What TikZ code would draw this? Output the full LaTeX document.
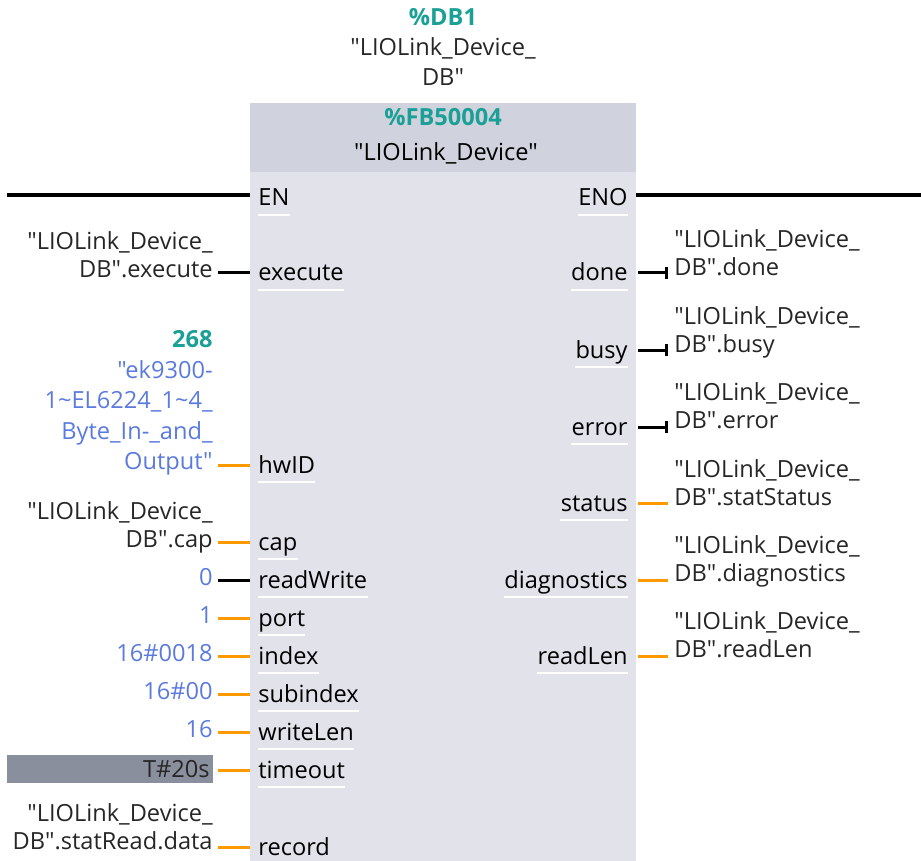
\documentclass[tikz,border=0pt]{standalone}
\usepackage{fontspec}
\setmainfont{Open Sans}[Ligatures=TeXOff]
\usepackage{xcolor}
\usetikzlibrary{arrows.meta}

\definecolor{dbteal}{RGB}{26,160,150}
\definecolor{valblue}{RGB}{90,122,222}
\definecolor{wireorange}{RGB}{255,153,0}
\definecolor{headgray}{RGB}{208,211,221}
\definecolor{bodygray}{RGB}{225,226,234}
\definecolor{timegray}{RGB}{138,143,157}
\newcommand\plcfont{\fontsize{11.8}{14}\selectfont}

\begin{document}
\begin{tikzpicture}[x=0.5pt,y=-0.5pt,
  every node/.style={inner sep=0pt,font=\plcfont,text=black!85},
  pinlbl/.style={anchor=base west,text=black},
  outlbl/.style={anchor=base east,text=black},
  inval/.style={anchor=south east,align=right,text depth=0pt},
  outval/.style={anchor=south west,align=left,text depth=0pt},
  wire/.style={line width=1.5pt},
  endbar/.style={-{Bar[width=6pt,line width=1.5pt]}},
  endnone/.style={}]
  \useasboundingbox (0,0) rectangle (921,861);
  % block body and header
  \fill[bodygray] (250,103) rectangle (636,861);
  \fill[headgray] (250,103) rectangle (636,172);
  \node[anchor=south,align=center,text depth=0pt,font=\fontsize{11.8}{15}\selectfont] (dbname) at (443,86)
    {\textcolor{dbteal}{\bfseries\%DB1}\\"LIOLink\_Device\_\\DB"};
  \node[anchor=base,font=\plcfont\bfseries,text=dbteal] (fbnum) at (443,126) {\%FB50004};
  \node[anchor=base,text=black] (fbname) at (446,161) {"LIOLink\_Device"};

  % EN / ENO power rail
  \node[pinlbl] (pen) at (258,206) {EN};
  \node[outlbl] (peno) at (628,206) {ENO};
  \coordinate (railL) at (7,195);
  \coordinate (railR) at (921,195);
  \draw[line width=2pt,shorten >=4pt] (railL) -- (railL -| pen.west);
  \draw[line width=2pt,shorten <=4pt] (railR -| peno.east) -- (railR);
  \foreach \n in {pen,peno}
    \draw[white,line width=1pt] ([yshift=-4.5pt]\n.base west) -- ([yshift=-4.5pt]\n.base east);

  % input pins
  \foreach \y/\p/\c in {273/execute/black,465/hwID/wireorange,542/cap/wireorange,
      580/readWrite/black,618/port/wireorange,656/index/wireorange,694/subindex/wireorange,
      732/writeLen/wireorange,770/timeout/wireorange,847/record/wireorange} {
    \coordinate (w\p) at (218,\y);
    \node[pinlbl] (p\p) at (258,\y+8) {\p};
    \draw[wire,draw=\c,shorten >=4pt] (w\p) -- (w\p -| p\p.west);
    \draw[white,line width=1pt] ([yshift=-4.5pt]p\p.base west) -- ([yshift=-4.5pt]p\p.base east);
  }

  % output pins
  \foreach \y/\p/\c/\t in {273/done/black/endbar,350/busy/black/endbar,427/error/black/endbar,
      503/status/wireorange/endnone,580/diagnostics/wireorange/endnone,656/readLen/wireorange/endnone} {
    \coordinate (r\p) at (668,\y);
    \node[outlbl] (o\p) at (628,\y+8) {\p};
    \draw[wire,draw=\c,\t,shorten <=5pt] (r\p -| o\p.east) -- (r\p);
    \draw[white,line width=1pt] ([yshift=-4.5pt]o\p.base west) -- ([yshift=-4.5pt]o\p.base east);
  }

  % actual parameters, inputs
  \node[inval] (vexecute) at (213,278) {"LIOLink\_Device\_\\DB".execute};
  \node[inval,text=valblue,font=\fontsize{11.8}{15.25}\selectfont] (vhwID) at (213,470)
    {\textcolor{dbteal}{\bfseries 268}\\"ek9300-\\1\textasciitilde EL6224\_1\textasciitilde 4\_\\Byte\_In-\_and\_\\Output"};
  \node[inval] (vcap) at (213,548) {"LIOLink\_Device\_\\DB".cap};
  \node[inval,text=valblue] (vreadWrite) at (213,586) {0};
  \node[inval,text=valblue] (vport) at (213,624) {1};
  \node[inval,text=valblue] (vindex) at (213,662) {16\#0018};
  \node[inval,text=valblue] (vsubindex) at (213,700) {16\#00};
  \node[inval,text=valblue] (vwriteLen) at (213,738) {16};
  \node[anchor=east,fill=timegray,inner xsep=1.5pt,text width=100pt,minimum height=14pt,align=right] (vtimeout) at (213,769) {T\#20s};
  \node[inval] (vrecord) at (213,850) {"LIOLink\_Device\_\\DB".statRead.data};

  % actual parameters, outputs
  \foreach \y/\p/\v in {276/done/done,353/busy/busy,429/error/error,506/status/statStatus,
      582/diagnostics/diagnostics,658/readLen/readLen}
    \node[outval] (v\p) at (674,\y) {"LIOLink\_Device\_\\DB".\v};
\end{tikzpicture}
\end{document}
